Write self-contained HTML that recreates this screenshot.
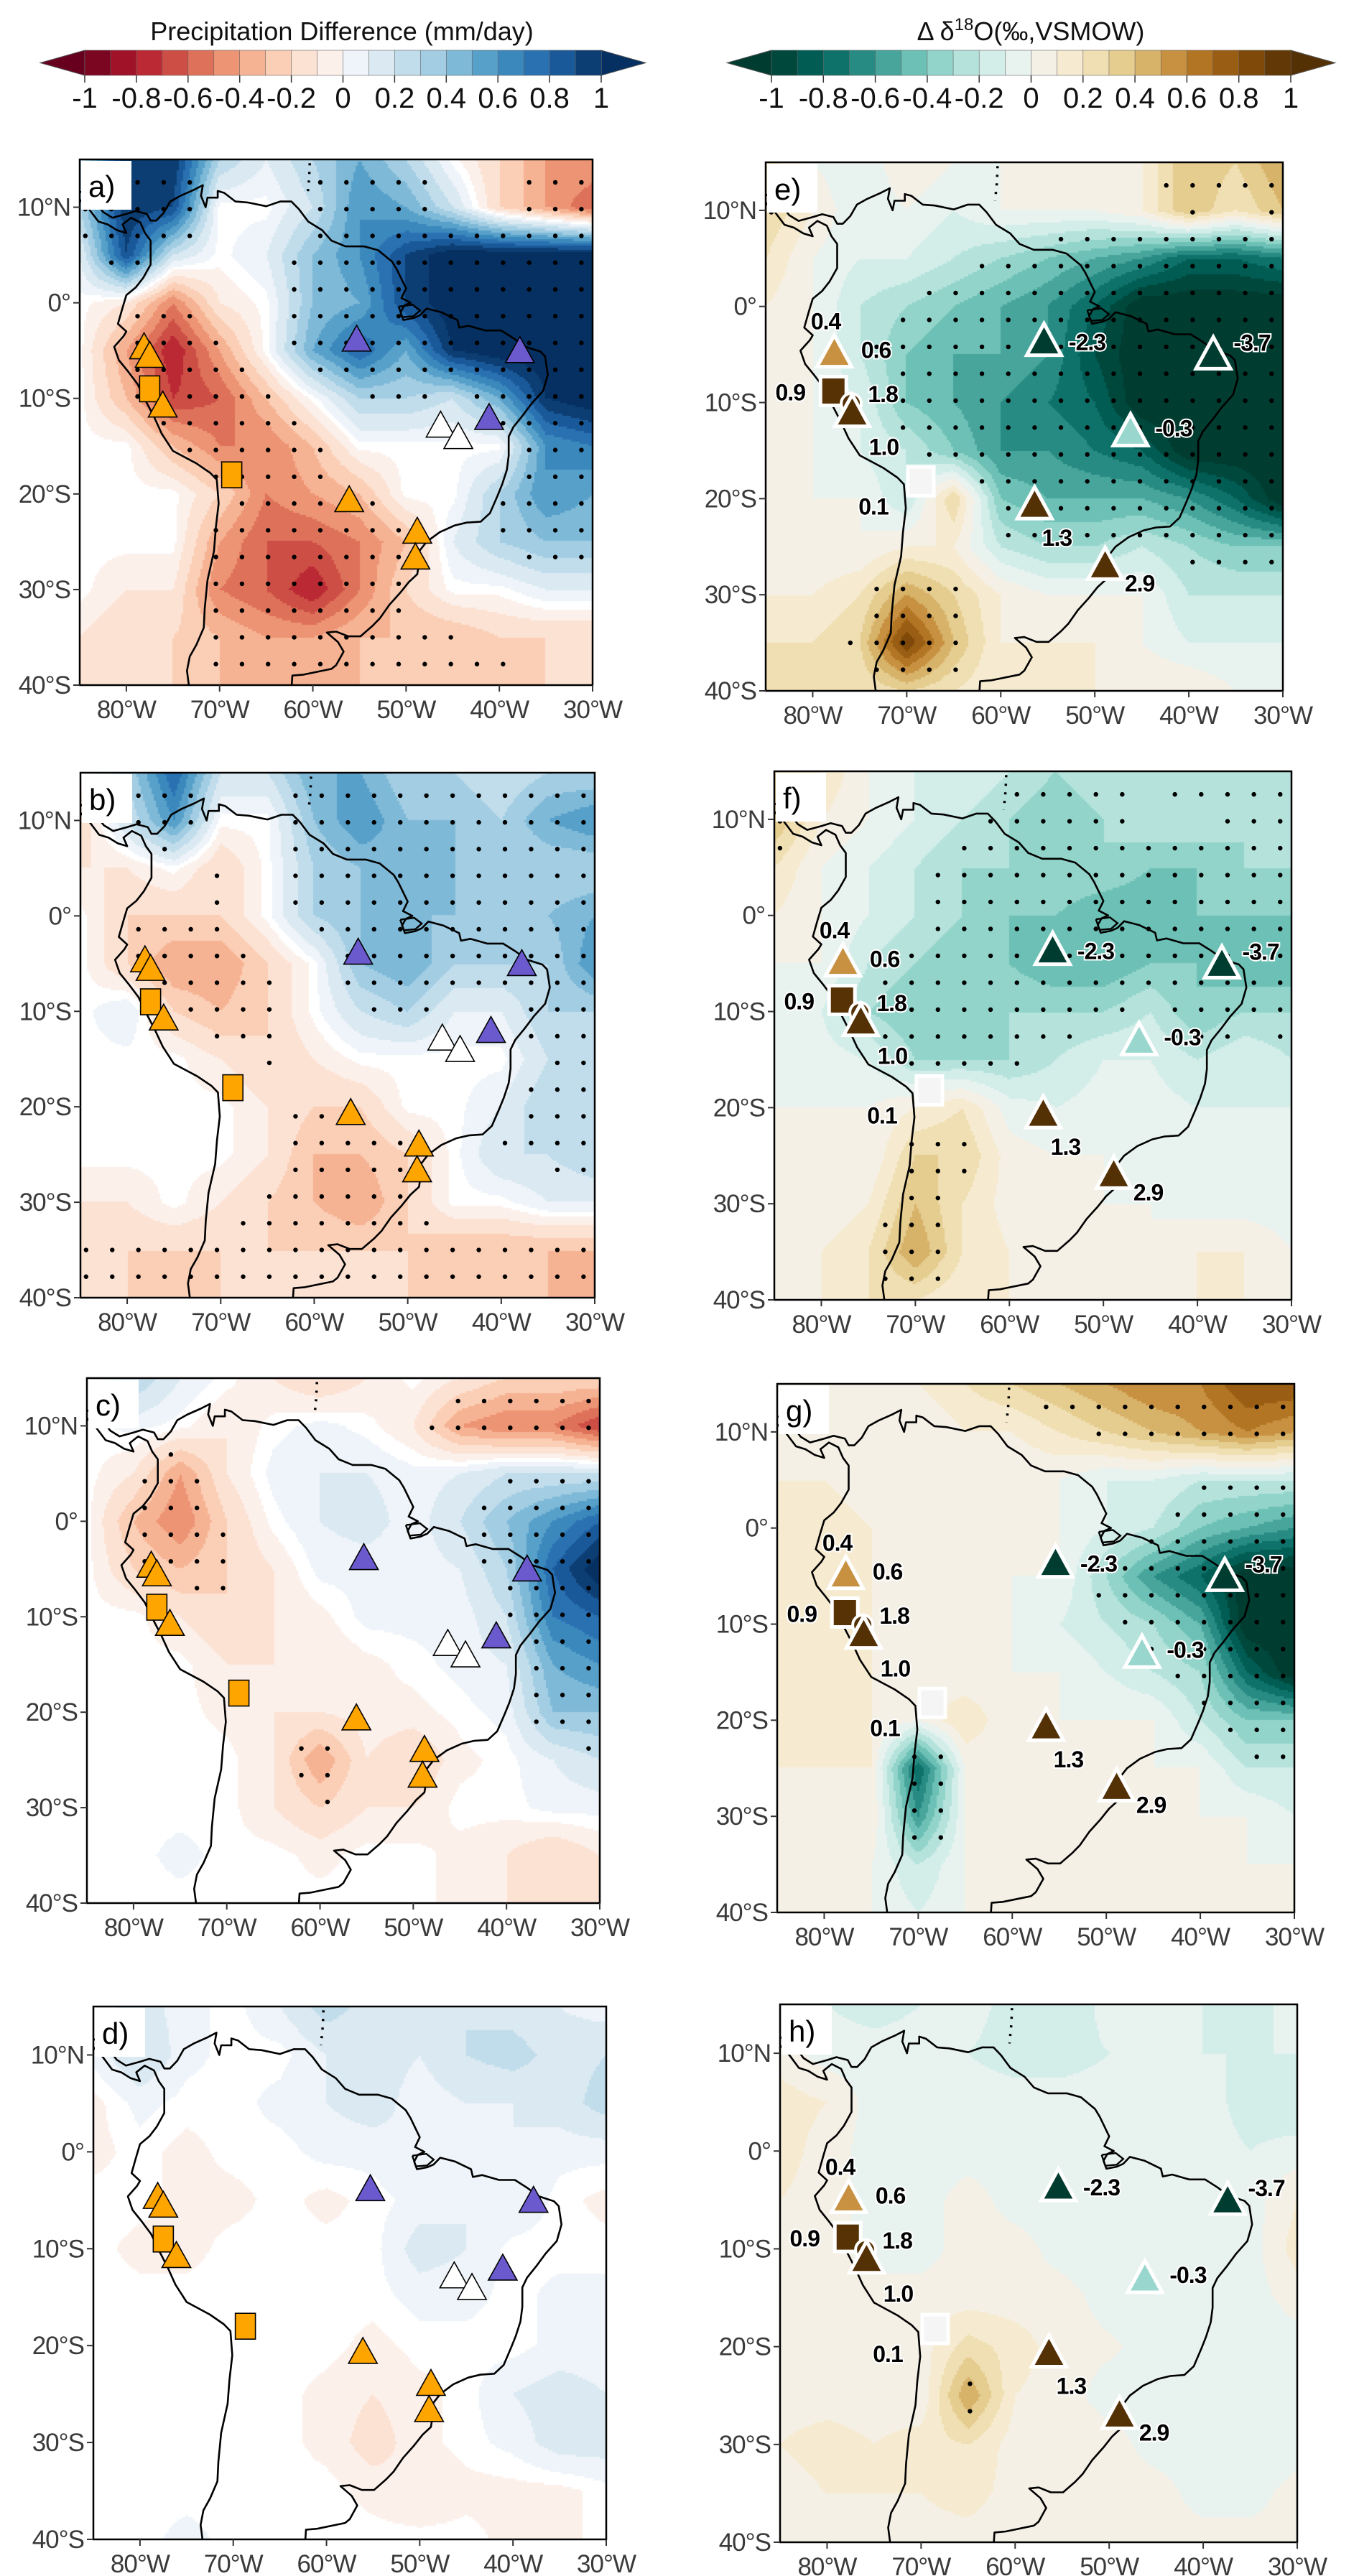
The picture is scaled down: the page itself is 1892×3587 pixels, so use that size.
<!DOCTYPE html>
<html><head><meta charset="utf-8">
<style>
html,body{margin:0;padding:0;background:#fff;}
#root{position:relative;width:1892px;height:3587px;overflow:hidden;font-family:"Liberation Sans",sans-serif;}
</style></head>
<body>
<div id="root">
<svg id="svg" width="1892" height="3587" style="position:absolute;left:0;top:0"></svg>
</div>
<script>
// ---------- DATA ----------
const lonTicks=[-80,-70,-60,-50,-40,-30];
const lonTickLabels=["80°W","70°W","60°W","50°W","40°W","30°W"];
const latTicks=[10,0,-10,-20,-30,-40];
const latTickLabels=["10°N","0°","10°S","20°S","30°S","40°S"];
const cbTicks=[-1,-0.8,-0.6,-0.4,-0.2,0,0.2,0.4,0.6,0.8,1];
const cbTickLabels=["-1","-0.8","-0.6","-0.4","-0.2","0","0.2","0.4","0.6","0.8","1"];
// grids: rows lat 15..-40 step 5, cols lon -85..-30 step 5
const gridA=[
[0.2,1,1,0.3,0.1,0.3,0.5,0.3,0,-0.2,-0.4,-0.4],
[0.3,1,0.9,0,0,0.2,0.6,0.5,0.2,-0.2,-0.4,-0.6],
[0.1,0.9,0.2,0,0.1,0.4,0.6,0.9,1.1,1.1,1.1,1.1],
[0,-0.1,-0.5,-0.1,0,0.4,0.5,0.9,1.1,1.1,1.1,1.1],
[0,-0.4,-0.8,-0.4,0,0.5,0.8,0.5,1,1.1,1.1,1.1],
[0,-0.3,-0.7,-0.6,-0.3,0,0.3,0.3,0.2,0.5,1,1.1],
[0,0,-0.3,-0.5,-0.5,-0.3,0,0,0,0,0.6,0.7],
[0,0,0,-0.2,-0.5,-0.4,-0.3,0,0,0.3,0.6,0.5],
[0,0,0,-0.4,-0.6,-0.6,-0.5,-0.3,0.1,0.3,0.4,0.4],
[0,-0.1,-0.1,-0.5,-0.6,-0.8,-0.5,-0.2,0,0,0.1,0.1],
[-0.1,-0.2,-0.2,-0.3,-0.4,-0.4,-0.3,-0.3,-0.3,-0.2,-0.2,-0.2],
[-0.1,-0.2,-0.2,-0.3,-0.3,-0.3,-0.3,-0.2,-0.3,-0.3,-0.2,-0.2]];
const gridB=[
[0,0.3,0.8,0.2,0.2,0.5,0.5,0.3,0.3,0.2,0.3,0.3],
[-0.2,0.2,0.6,0,0,0.4,0.6,0.4,0.4,0.3,0.5,0.6],
[-0.1,-0.1,0,-0.2,0,0.3,0.4,0.5,0.4,0.3,0.3,0.3],
[0,-0.2,-0.2,-0.2,0,0.3,0.4,0.4,0.4,0.3,0.4,0.5],
[0,-0.2,-0.4,-0.4,-0.2,0,0.4,0.5,0.3,0.3,0.3,0.6],
[0,0.1,-0.2,-0.3,-0.2,0,0.2,0.3,0.1,0.1,0.3,0.3],
[0,0,0,-0.1,-0.2,-0.1,0,0,0,0,0.2,0.3],
[0,0,0,0,-0.1,-0.2,-0.2,0,0,0.1,0.3,0.3],
[0,0,0,0,-0.1,-0.3,-0.3,-0.2,0,0.2,0.2,0.3],
[-0.1,-0.1,0,-0.1,-0.2,-0.3,-0.4,-0.2,0,0,0.1,0.1],
[-0.2,-0.2,-0.2,-0.2,-0.2,-0.2,-0.2,-0.2,-0.3,-0.3,-0.3,-0.3],
[-0.2,-0.2,-0.3,-0.2,-0.2,-0.2,-0.2,-0.2,-0.3,-0.3,-0.3,-0.4]];
const gridC=[
[0,0.3,0.1,0,-0.1,-0.2,-0.1,0,-0.1,-0.2,-0.2,-0.2],
[0,0.05,0,-0.1,0,0.05,0,-0.1,-0.4,-0.5,-0.5,-0.7],
[0,-0.1,-0.4,-0.1,0.05,0.1,0.1,0.05,0.1,0.2,0.2,0.2],
[0,-0.3,-0.5,-0.2,0,0.1,0.15,0.05,0.2,0.4,0.6,0.8],
[0,-0.2,-0.3,-0.2,-0.1,0.05,0.05,0.05,0.1,0.3,0.8,1.1],
[0,0,-0.1,-0.2,-0.1,-0.05,0.05,0.05,0.05,0.2,0.7,0.8],
[0,0,0,-0.1,-0.1,-0.1,-0.05,0,0.05,0.1,0.5,0.6],
[0,0,0,-0.05,-0.1,-0.1,-0.05,-0.05,0,0.05,0.4,0.4],
[0,0,0,0,-0.1,-0.4,-0.1,-0.2,-0.05,0,0.1,0.2],
[0,0,0,0,-0.1,-0.2,-0.1,-0.1,0,0,0.05,0.05],
[0,0,0.05,0,0,-0.05,0,0,-0.05,-0.1,-0.2,-0.1],
[0,0,0,0,0,0,0,0,-0.05,-0.1,-0.1,-0.1]];
const gridD=[
[0.05,0.15,0.05,0,0.1,0.25,0.15,0.1,0.2,0.15,0.1,0.05],
[0.05,0.2,0.05,0,0,0.1,0.15,0.1,0.2,0.25,0.15,0.2],
[-0.05,0.05,0,0,0.05,0.1,0.15,0.05,0.1,0.1,0.15,0.25],
[-0.05,0,-0.05,0,0,0.05,0.05,0.1,0.05,0.1,0.05,0.05],
[0,0,-0.05,-0.05,0,-0.05,0,0.05,0.1,0.1,0,-0.05],
[0,-0.05,-0.05,0,0,0,0,0.15,0.1,0,0,0],
[0,0,0,0,0,0,0,0.05,0.05,0,0.05,0.05],
[0,0,0,0,0,0,-0.05,0,0,0,0.05,0.05],
[0,0,0,0,0,-0.05,-0.1,-0.05,0,0.1,0.15,0.1],
[0,0,0,0,0,-0.05,-0.15,-0.05,0,0.05,0.15,0.15],
[0,0,0,0,0,0,-0.05,-0.1,-0.05,-0.05,-0.05,0],
[0,0,0.05,0,0,0,0,0,0,-0.05,-0.05,0]];
const gridE=[
[0.3,0,-0.1,0.1,0,0,0.1,0,0.1,0.4,0.3,0.5],
[0.3,0.1,-0.1,0,-0.1,0,0,0,0.1,0.4,0.2,0.4],
[0.2,0,-0.1,-0.1,-0.2,-0.3,-0.4,-0.5,-0.6,-0.8,-0.8,-0.7],
[0.1,0,-0.2,-0.3,-0.4,-0.5,-0.6,-0.8,-1.1,-1.1,-1.1,-1.1],
[0.1,0,-0.2,-0.4,-0.5,-0.5,-0.6,-0.9,-1.1,-1.1,-1.1,-1.1],
[0,0,-0.1,-0.4,-0.5,-0.6,-0.7,-0.8,-1.1,-1.1,-1.1,-1.1],
[0,0,-0.1,-0.2,-0.4,-0.6,-0.6,-0.7,-0.8,-1.1,-1.1,-1.1],
[0,0,0,-0.2,0.3,-0.4,-0.5,-0.5,-0.5,-0.6,-0.8,-1.1],
[0,0,0,0.1,0.1,-0.2,-0.3,-0.3,-0.2,-0.3,-0.4,-0.4],
[0.1,0.1,0.2,0.5,0.3,0.1,0,0,0,-0.2,-0.2,-0.2],
[0.2,0.2,0.3,0.9,0.4,0.1,0.1,0.1,0,-0.1,-0.1,-0.1],
[0.2,0.2,0.2,0.3,0.2,0.1,0.1,0.1,0.1,0.1,0,0]];
const gridF=[
[0.3,0.2,0,-0.1,-0.1,-0.2,-0.3,-0.2,-0.2,-0.3,-0.2,-0.2],
[0.4,0.1,0,-0.1,-0.2,-0.3,-0.4,-0.3,-0.2,-0.2,-0.3,-0.3],
[0.2,0,-0.1,-0.2,-0.3,-0.3,-0.3,-0.3,-0.4,-0.4,-0.3,-0.3],
[0.1,0,-0.1,-0.2,-0.3,-0.4,-0.4,-0.5,-0.5,-0.4,-0.4,-0.4],
[0,0,-0.2,-0.3,-0.4,-0.4,-0.5,-0.5,-0.4,-0.4,-0.5,-0.5],
[0,-0.1,-0.3,-0.4,-0.4,-0.3,-0.3,-0.3,-0.2,-0.4,-0.3,-0.3],
[0,-0.05,-0.1,-0.3,-0.3,-0.3,-0.2,-0.1,-0.1,-0.2,-0.1,-0.2],
[0,0,0,0.1,0.2,-0.05,-0.1,-0.05,-0.05,-0.1,-0.1,-0.1],
[0,0,0,0.3,0.3,0.05,0,0,-0.05,-0.05,-0.1,-0.1],
[0,0,0.1,0.4,0.2,0.05,0,0,0,-0.05,-0.05,-0.05],
[0,0.1,0.2,0.5,0.2,0.1,0,0,0,0.1,0.1,0],
[0.1,0.1,0.2,0.2,0.1,0.1,0.1,0.1,0.1,0.1,0.1,0.1]];
const gridG=[
[0,0,0,0.1,0.2,0.3,0.4,0.5,0.6,0.6,0.8,0.8],
[0,0,0,0,0.1,0.1,0.2,0.3,0.4,0.5,0.6,0.5],
[0.1,0.1,0,0,0,0,0,-0.1,-0.1,-0.2,-0.2,-0.2],
[0.1,0.2,0.1,0,0,0,0,-0.1,-0.2,-0.4,-0.5,-0.6],
[0.1,0.2,0.1,0,0,0,0,-0.3,-0.6,-0.8,-1.1,-1.1],
[0.1,0.2,0.1,0,0,0,-0.1,-0.2,-0.3,-0.5,-1.1,-1.1],
[0.1,0.1,0.1,0.1,0,0,0,-0.1,-0.2,-0.3,-0.8,-1.1],
[0.1,0.1,0.1,0,0.2,0,0,0,0,-0.2,-0.4,-0.4],
[0.1,0.1,0.1,-0.8,0,0,0,0,0,0,-0.2,-0.2],
[0,0,0.1,-0.6,0,0,0,0,0,0,0,-0.1],
[0,0,0,-0.2,0,0,0,0,0,0,0,0],
[0,0,0,-0.1,0,0,0,0,0,0,0,0]];
const gridH=[
[0.05,-0.1,-0.15,-0.1,-0.05,-0.15,-0.2,-0.05,-0.05,-0.1,-0.15,-0.05],
[0.05,-0.05,-0.05,-0.05,-0.1,-0.15,-0.15,-0.1,-0.05,-0.1,-0.1,-0.1],
[0.15,0.1,-0.05,-0.05,-0.05,-0.05,-0.05,-0.05,-0.1,-0.05,-0.15,-0.2],
[0.15,0.05,-0.05,-0.05,-0.05,-0.05,-0.05,-0.05,-0.05,-0.05,-0.1,-0.05],
[0.1,0.05,-0.05,-0.05,0.05,-0.05,-0.05,-0.1,-0.05,-0.05,-0.05,0.1],
[0.05,0.05,-0.05,-0.05,0.05,0.05,-0.05,-0.1,-0.1,-0.05,-0.05,0.15],
[0.05,0.05,0.05,0.05,0.05,0.05,0.05,-0.05,-0.1,-0.05,-0.05,0.05],
[0.05,0.05,0.05,0.05,0.25,0.15,0.05,0.02,-0.05,-0.05,-0.1,-0.05],
[0.05,0.05,0.05,0.02,0.5,0.1,0.05,-0.05,-0.05,-0.05,-0.1,-0.05],
[0.1,0.15,0.1,0.15,0.2,0.05,0.05,0.05,-0.05,-0.05,-0.1,-0.05],
[0.05,0.1,0.1,0.1,0.15,0.05,0.02,0.05,0.05,-0.05,-0.05,0.05],
[0.05,0.05,0.05,0.05,0.05,0.02,0.02,0.02,0.05,0.05,0.05,0.05]];
const sigThresholds=[0.25,0.17,0.2,0.3,0.25,0.22,0.22,0.35];
// left-panel proxy sites
const siteLon=[-78.1,-77.5,-77.5,-76.1,-68.7,-56.1,-48.8,-49.0,-55.3,-37.8,-41.1,-46.3,-44.4];
const siteLat=[-4.8,-5.7,-9.0,-10.9,-18.0,-20.8,-24.1,-26.8,-4.0,-5.2,-12.2,-13.0,-14.2];
const siteShape=["tri","tri","sq","tri","sq","tri","tri","tri","tri","tri","tri","tri","tri"];
const siteGroup=["o","o","o","o","o","o","o","o","p","p","p","w","w"];
// right-panel sites with isotope change values
const isoLon=[-77.7,-77.8,-75.9,-75.8,-68.5,-56.4,-48.9,-55.4,-37.4,-46.2];
const isoLat=[-5.0,-8.8,-10.1,-11.2,-18.2,-20.8,-27.1,-3.8,-5.2,-13.2];
const isoShape=["tri","sq","circ","tri","sq","tri","tri","tri","tri","tri"];
const isoValue=[0.5,0.9,1.8,1.0,0.1,1.3,2.9,-2.3,-3.7,-0.3];
const isoLabels=[["0.4",-12,-46],["0.6",58,-6],["0.9",-60,2],["1.8",44,-13],["1.0",44,46],["0.1",-66,35],["1.3",31,44],["2.9",48,23],["-2.3",60,-1],["-3.7",54,-19],["-0.3",60,-7]];
const isoLabelSite=[0,0,1,2,3,4,5,6,7,8,9];
const coast=[[-90,11],[-85.7,11.2],[-85,10.8],[-84,9.8],[-83,8.5],[-82,8.2],[-81,7.6],[-80,7.3],[-80.4,8.2],[-79.5,8.9],[-78.5,8.4],[-78,7.3],[-77.4,6.5],[-77.4,4],[-78.2,2.6],[-79,1.6],[-80,0.8],[-80.4,-0.5],[-80.9,-2.2],[-80,-3],[-80.3,-3.5],[-81.3,-4.6],[-80.8,-6],[-79.8,-7.2],[-78.8,-8.5],[-77.8,-10.5],[-77,-12],[-76.2,-13.7],[-75,-15.5],[-72.5,-16.8],[-71,-17.8],[-70.3,-18.5],[-70.1,-21],[-70.4,-23.5],[-70.6,-26],[-71.3,-29],[-71.6,-32],[-71.7,-34],[-72.5,-35.8],[-73.2,-37],[-73.5,-38.5],[-73.3,-40],[-73.5,-45],[-60,-45],[-62.3,-40.5],[-62.2,-39],[-61,-38.9],[-58,-38.3],[-57.5,-37.9],[-56.7,-36.5],[-57.3,-35.5],[-58.5,-34.5],[-57.5,-34.4],[-56.2,-34.9],[-54.9,-34.9],[-53.6,-33.8],[-52.8,-33],[-51.8,-31.6],[-50.6,-30.3],[-49.7,-29.2],[-48.8,-28.4],[-48.6,-27.2],[-48.6,-26],[-47.8,-25],[-46.4,-24],[-44.8,-23.3],[-43.5,-23],[-42,-22.9],[-41,-22],[-40.2,-20.2],[-39.7,-19],[-39.2,-17.5],[-39,-16],[-39,-14],[-38.5,-13],[-37.5,-11.8],[-36.5,-10.5],[-35.3,-9.2],[-34.8,-7.5],[-35.1,-5.6],[-35.6,-5.1],[-37.2,-4.6],[-38.5,-3.7],[-39.8,-2.9],[-41.5,-2.9],[-43.3,-2.4],[-44.3,-2.6],[-44.5,-1.8],[-46.2,-1],[-47.8,-0.6],[-48.5,-1.3],[-49.2,-1.6],[-50.3,-1.8],[-50.6,-1],[-50.2,-0.3],[-49.5,0],[-50.5,0.5],[-50,1.5],[-51,3.5],[-51.5,4.3],[-53,5.5],[-54.5,5.9],[-56.5,5.9],[-58,6.5],[-59,7.6],[-60.5,8.5],[-61.5,9.8],[-62.3,10.6],[-63.5,10.6],[-65,10.1],[-67,10.5],[-68.3,10.6],[-69.5,11.5],[-70.2,11.7],[-70.2,11],[-71.3,11],[-71.5,10],[-72,11.2],[-71.8,12.3],[-72.8,11.8],[-74.2,11.2],[-75.3,10.6],[-76,9.4],[-76.8,8.6],[-77.4,8.6],[-77.8,9.3],[-79,9.6],[-80,9.3],[-81.5,8.9],[-82.5,9.5],[-83.5,10.8],[-83.7,11.5],[-90,12]];
const marajo=[[-50.8,-0.4],[-49.3,-0.2],[-48.5,-0.8],[-49.2,-1.4],[-50.4,-1.5],[-50.8,-0.4]];
const borderDots=[[-60.3,15.5],[-60.4,13],[-60.6,11]];

// ---------- RENDER ----------
const svgNS="http://www.w3.org/2000/svg";
const svg=document.getElementById('svg');
const root=document.getElementById('root');
const RdBu=["#67001f","#b2182b","#d6604d","#f4a582","#fddbc7","#f7f7f7","#d1e5f0","#92c5de","#4393c3","#2166ac","#053061"];
const BrBG=["#003c30","#01665e","#35978f","#80cdc1","#c7eae5","#f5f5f5","#f6e8c3","#dfc27d","#bf812d","#8c510a","#543005"];
function hex(h){return [parseInt(h.substr(1,2),16),parseInt(h.substr(3,2),16),parseInt(h.substr(5,2),16)];}
function pal(list,v){v=Math.max(-1,Math.min(1,v));const t=(v+1)/2*(list.length-1);const i=Math.min(list.length-2,Math.floor(t));const f=t-i;const a=hex(list[i]),b=hex(list[i+1]);return [0,1,2].map(k=>Math.round(a[k]+(b[k]-a[k])*f));}
function binColor(kind,v){
  const list=kind==='p'?RdBu:BrBG;
  if(v>=1) return pal(list,1.05); if(v<-1) return pal(list,-1.05);
  if(kind==='p'&&Math.abs(v)<0.025) return [255,255,255];
  const idx=Math.floor(v*10+1e-6);
  if(kind==='o'&&idx===-1) return [232,243,240];
  if(kind==='o'&&idx===0) return [245,240,230];
  if(kind==='p'&&idx===-1) return [252,240,235];
  if(kind==='p'&&idx===0) return [238,244,249];
  return pal(list,(idx+0.5)/10);
}
function rgb(c){return 'rgb('+c[0]+','+c[1]+','+c[2]+')';}
function mk(tag,attrs,parent){const e=document.createElementNS(svgNS,tag);for(const k in attrs)e.setAttribute(k,attrs[k]);(parent||svg).appendChild(e);return e;}
function txt(s,x,y,size,anchor,parent,extra){const t=mk('text',Object.assign({x:x,y:y,'font-size':size,'text-anchor':anchor||'middle','font-family':'Liberation Sans, sans-serif',fill:'#3a3a3a'},extra||{}),parent);t.textContent=s;return t;}

function colorbar(kind,x0,x1,y0,y1,name){
  const g=mk('g',{});
  
  
  const w=(x1-x0)/20;const list=kind==='p'?RdBu:BrBG;
  const ext=62;
  const l=mk('polygon',{points:`${x0},${y0} ${x0-ext},${(y0+y1)/2} ${x0},${y1}`,fill:rgb(pal(list,-1.05)),stroke:'#555','stroke-width':1},g);
  
  const r=mk('polygon',{points:`${x1},${y0} ${x1+ext},${(y0+y1)/2} ${x1},${y1}`,fill:rgb(pal(list,1.05)),stroke:'#555','stroke-width':1},g);
  
  for(let i=0;i<20;i++){const v=-1+i*0.1+0.05;const rc=mk('rect',{x:x0+i*w,y:y0,width:w+0.5,height:y1-y0,fill:rgb(binColor(kind,v)),stroke:'#666','stroke-width':0.6},g);
    }
  cbTicks.forEach((t,i)=>{const x=x0+(t+1)/2*(x1-x0);mk('line',{x1:x,x2:x,y1:y1,y2:y1+10,stroke:'#333','stroke-width':1.5},g);
    const tt=txt(cbTickLabels[i],x,y1+45,40,'middle',g,{fill:'#111'});});
  return g;
}
colorbar('p',118,837,70,105,'precip-colorbar');
colorbar('o',1074,1797,70,105,'isotope-colorbar');
let t1=txt('Precipitation Difference (mm/day)',476,56,36,'middle',svg,{fill:'#111'});

let t2=mk('text',{x:1435,y:56,'font-size':36,'text-anchor':'middle','font-family':'Liberation Sans, sans-serif',fill:'#111'});
t2.innerHTML='Δ δ<tspan dy="-14" font-size="24">18</tspan><tspan dy="14">O(‰,VSMOW)</tspan>';


const panels=[
 {n:'a',x:111,y:222,w:714,h:732,k:'p',g:gridA},
 {n:'b',x:112,y:1076,w:716,h:731,k:'p',g:gridB},
 {n:'c',x:121,y:1919,w:714,h:731,k:'p',g:gridC},
 {n:'d',x:130,y:2794,w:714,h:742,k:'p',g:gridD},
 {n:'e',x:1066,y:226,w:720,h:736,k:'o',g:gridE},
 {n:'f',x:1078,y:1074,w:720,h:736,k:'o',g:gridF},
 {n:'g',x:1082,y:1927,w:720,h:736,k:'o',g:gridG},
 {n:'h',x:1086,y:2791,w:720,h:749,k:'o',g:gridH}];

function sample(g,lon,lat){let gi=(lon+85)/5,gj=(15-lat)/5;gi=Math.max(0,Math.min(10.999,gi));gj=Math.max(0,Math.min(10.999,gj));
  const i=Math.floor(gi),j=Math.floor(gj),fi=gi-i,fj=gj-j;
  return g[j][i]*(1-fi)*(1-fj)+g[j][i+1]*fi*(1-fj)+g[j+1][i]*(1-fi)*fj+g[j+1][i+1]*fi*fj;}

panels.forEach((P,pi)=>{
  const X=lon=>P.x+(lon+85)/55*P.w, Y=lat=>P.y+(15-lat)/55*P.h;
  const cv=document.createElement('canvas');cv.width=P.w;cv.height=P.h;
  cv.style.cssText=`position:absolute;left:${P.x}px;top:${P.y}px;`;
  
  
  root.insertBefore(cv,svg);
  const ctx=cv.getContext('2d');const B=3;
  for(let py=0;py<P.h;py+=B)for(let px=0;px<P.w;px+=B){
    const lon=-85+(px+B/2)/P.w*55,lat=15-(py+B/2)/P.h*55;
    ctx.fillStyle=rgb(binColor(P.k,sample(P.g,lon,lat)));ctx.fillRect(px,py,B,B);}
  const grp=mk('g',{});
  
  
  const cid='clip'+P.n;
  const cp=mk('clipPath',{id:cid},grp);mk('rect',{x:P.x,y:P.y,width:P.w,height:P.h},cp);
  const inner=mk('g',{'clip-path':`url(#${cid})`},grp);
  for(let r=0;r<20;r++)for(let c=0;c<20;c++){
    const lon=-84.4+c*2.8,lat=12.6-r*2.8;if(lon>-30||lat<-40)continue;
    if(Math.abs(sample(P.g,lon,lat))>sigThresholds[pi]){
      const d=mk('circle',{cx:X(lon),cy:Y(lat),r:3.2,fill:'#000'},inner);
      }}
  const cl=mk('path',{d:'M'+coast.map(p=>X(p[0]).toFixed(1)+','+Y(p[1]).toFixed(1)).join('L')+'Z',fill:'none',stroke:'#000','stroke-width':2.6,'stroke-linejoin':'round'},inner);
  
  const mj=mk('path',{d:'M'+marajo.map(p=>X(p[0]).toFixed(1)+','+Y(p[1]).toFixed(1)).join('L'),fill:'none',stroke:'#000','stroke-width':2.4},inner);
  
  const bd=mk('path',{d:'M'+borderDots.map(p=>X(p[0]).toFixed(1)+','+Y(p[1]).toFixed(1)).join('L'),fill:'none',stroke:'#000','stroke-width':3.5,'stroke-dasharray':'3 9'},inner);
  
  if(P.k==='p'){
    siteLon.forEach((lon,i)=>{const cx=X(lon),cy=Y(siteLat[i]);
      const fill=siteGroup[i]==='o'?'#ffa500':siteGroup[i]==='p'?'#6a5acd':'#ffffff';
      let m;
      if(siteShape[i]==='tri') m=mk('polygon',{points:`${cx},${cy-22} ${cx-20},${cy+14} ${cx+20},${cy+14}`,fill:fill,stroke:'#000','stroke-width':1.6},inner);
      else m=mk('rect',{x:cx-14,y:cy-18,width:28,height:36,fill:fill,stroke:'#000','stroke-width':1.6},inner);
      });
  } else {
    isoLon.forEach((lon,i)=>{const cx=X(lon),cy=Y(isoLat[i]);
      const fill=Math.abs(isoValue[i])<0.15?'#f5f5f5':rgb(pal(BrBG,isoValue[i]*1.1));let m;
      if(isoShape[i]==='tri') m=mk('polygon',{points:`${cx},${cy-27} ${cx-24},${cy+17} ${cx+24},${cy+17}`,fill:fill,stroke:'#fff','stroke-width':5,'stroke-linejoin':'miter'},inner);
      else if(isoShape[i]==='sq') m=mk('rect',{x:cx-18,y:cy-20,width:36,height:40,fill:fill,stroke:'#fff','stroke-width':5},inner);
      else m=mk('circle',{cx:cx,cy:cy,r:14,fill:fill,stroke:'#fff','stroke-width':4},inner);
      });
    isoLabels.forEach((L,i)=>{const s=isoLabelSite[i];const cx=X(isoLon[s])+L[1],cy=Y(isoLat[s])+L[2];
      const t=txt(L[0],cx,cy+11,32,'middle',inner,{fill:'#000','font-weight':'bold',stroke:'#fff','stroke-width':4,'paint-order':'stroke','letter-spacing':'-1'});
      });
  }
  const lb=mk('rect',{x:P.x+2,y:P.y+2,width:70,height:68,fill:'#fff'},inner);
  
  const lt=txt(P.n+')',P.x+12,P.y+52,42,'start',grp,{fill:'#000'});
  
  const fr=mk('rect',{x:P.x,y:P.y,width:P.w,height:P.h,fill:'none',stroke:'#000','stroke-width':2.5},grp);
  
  lonTicks.forEach((lon,i)=>{const x=X(lon);mk('line',{x1:x,x2:x,y1:P.y+P.h,y2:P.y+P.h+9,stroke:'#333','stroke-width':2},grp);
    const t=txt(lonTickLabels[i],x,P.y+P.h+46,35,'middle',grp,{'letter-spacing':'-1'});
    });
  latTicks.forEach((lat,i)=>{const y=Y(lat);mk('line',{x1:P.x-9,x2:P.x,y1:y,y2:y,stroke:'#333','stroke-width':2},grp);
    const t=txt(latTickLabels[i],P.x-13,y+12,35,'end',grp,{'letter-spacing':'-1'});
    });
});
</script>
</body></html>
